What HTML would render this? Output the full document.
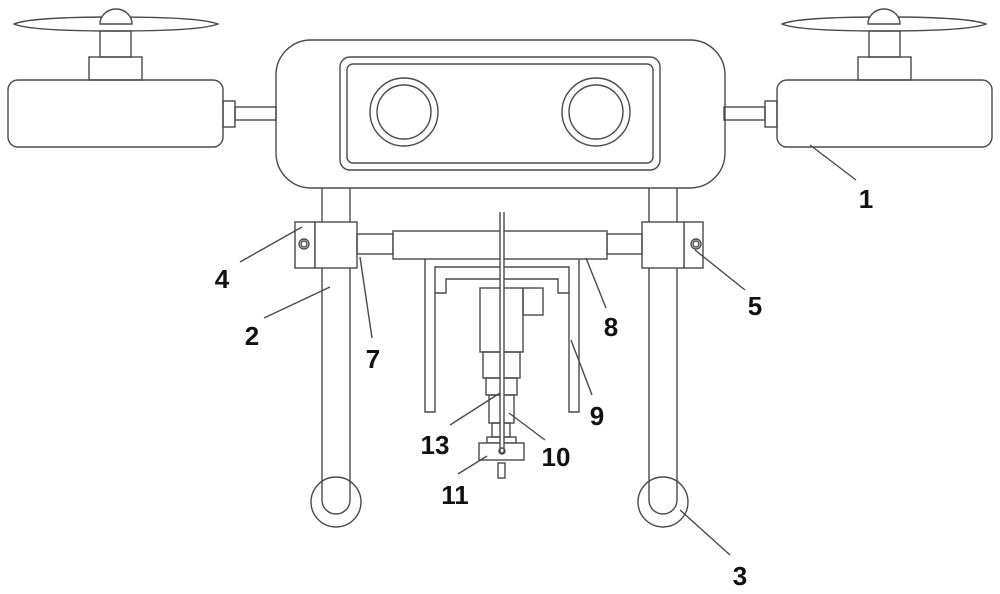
<!DOCTYPE html>
<html><head><style>body{margin:0;background:#fff}svg{display:block}</style></head><body>
<svg width="1000" height="594" viewBox="0 0 1000 594" xmlns="http://www.w3.org/2000/svg">
<g fill="none" stroke="#4a4a4a" stroke-width="1.4">
<!-- left rotor -->
<path d="M14 24 Q30 17 116 17 Q200 17 218 24 Q200 31 116 31 Q30 31 14 24 Z" fill="#fff"/>
<path d="M100 24 A16 15 0 0 1 132 24 Z" fill="#fff"/>
<rect x="100" y="31" width="31" height="26"/>
<rect x="89" y="57" width="53" height="23"/>
<rect x="8" y="80" width="215" height="67" rx="10"/>
<rect x="223" y="101" width="12" height="26"/>
<rect x="235" y="107" width="41" height="13"/>
<!-- right rotor -->
<path d="M782 24 Q798 17 884 17 Q968 17 986 24 Q968 31 884 31 Q798 31 782 24 Z" fill="#fff"/>
<path d="M868 24 A16 15 0 0 1 900 24 Z" fill="#fff"/>
<rect x="869" y="31" width="31" height="26"/>
<rect x="858" y="57" width="53" height="23"/>
<rect x="777" y="80" width="215" height="67" rx="10"/>
<rect x="765" y="101" width="12" height="26"/>
<rect x="724" y="107" width="41" height="13"/>
<!-- body -->
<rect x="276" y="40" width="449" height="148" rx="35"/>
<rect x="340" y="57" width="320" height="113" rx="10"/>
<rect x="347" y="64" width="306" height="99" rx="6"/>
<circle cx="404" cy="112" r="34"/><circle cx="404" cy="112" r="27"/>
<circle cx="596" cy="112" r="34"/><circle cx="596" cy="112" r="27"/>
<!-- legs -->
<path d="M322 188 V500 A14 14 0 0 0 350 500 V188"/>
<circle cx="336" cy="502" r="25"/>
<path d="M649 188 V500 A14 14 0 0 0 677 500 V188"/>
<circle cx="663" cy="502" r="25"/>
<!-- clamps -->
<rect x="295" y="222" width="20" height="46" fill="#fff"/>
<rect x="315" y="222" width="42" height="46" fill="#fff"/>
<circle cx="304" cy="244" r="5"/><circle cx="304" cy="244" r="3"/>
<rect x="684" y="222" width="19" height="46" fill="#fff"/>
<rect x="642" y="222" width="42" height="46" fill="#fff"/>
<circle cx="696" cy="244" r="5"/><circle cx="696" cy="244" r="3"/>
<!-- rods + bar 8 -->
<rect x="357" y="234" width="36" height="20"/>
<rect x="607" y="234" width="35" height="20"/>
<rect x="393" y="231" width="214" height="28" fill="#fff"/>
<!-- frame 9 -->
<path d="M425 259 V412 H435 V293 H446 V279 H558 V293 H569 V412 H579 V259"/>
<path d="M435 293 V267 H569 V293"/>
<!-- motor stack -->
<rect x="480" y="288" width="43" height="64"/>
<rect x="523" y="288" width="20" height="27"/>
<rect x="483" y="352" width="37" height="26"/>
<rect x="486" y="378" width="31" height="17"/>
<rect x="489" y="395" width="25" height="28"/>
<rect x="492" y="423" width="18" height="14"/>
<rect x="487" y="437" width="29" height="6"/>
<rect x="479" y="443" width="45" height="17" fill="#fff"/>
<rect x="498" y="463" width="7" height="15"/>
<path d="M500 212 V451 A2 2 0 0 0 504 451 V212" fill="#fff"/>
<circle cx="502" cy="451" r="3"/>
<!-- leaders -->
<path d="M810 145 L856 180 M330 287 L264 318 M680 510 L730 555 M302 227 L240 262 M695 250 L745 290 M360 257 L372 338 M586 258 L606 308 M571 340 L592 395 M509 413 L545 440 M500 393 L450 425 M487 456 L458 474"/>
</g>
<g font-family="Liberation Sans, sans-serif" font-size="26" font-weight="600" fill="#111" text-anchor="middle">
<text x="866" y="208">1</text>
<text x="252" y="345">2</text>
<text x="740" y="585">3</text>
<text x="222" y="288">4</text>
<text x="755" y="315">5</text>
<text x="373" y="368">7</text>
<text x="611" y="336">8</text>
<text x="597" y="425">9</text>
<text x="556" y="466">10</text>
<text x="435" y="454">13</text>
<text x="455" y="504">11</text>
</g>
</svg>
</body></html>
